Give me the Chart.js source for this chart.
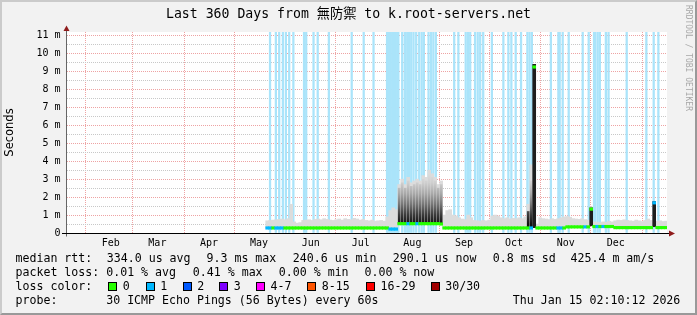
<!DOCTYPE html>
<html><head><meta charset="utf-8"><title>smokeping k.root-servers.net</title>
<script src="https://cdn.jsdelivr.net/npm/chart.js@4/dist/chart.umd.min.js"></script>
<style>
html,body{margin:0;padding:0;background:#f2f2f2;}
#wrap{position:relative;width:697px;height:315px;overflow:hidden;background:#f2f2f2;}
#c{position:absolute;left:0;top:0;}
#frame{position:absolute;left:0;top:0;width:697px;height:315px;box-sizing:border-box;border-style:solid;border-width:2px;border-color:#cbcbcb #999 #999 #cbcbcb;pointer-events:none;}
.tx{position:absolute;white-space:pre;font-family:"DejaVu Sans Mono",monospace;font-size:11.6px;line-height:14px;color:#000;}
#title{position:absolute;left:0;top:6.4px;width:697px;text-align:center;white-space:pre;font-family:"DejaVu Sans Mono","Noto Sans CJK TC",monospace;font-size:13.2px;line-height:16px;color:#000;}
#wm{position:absolute;left:684px;top:5px;writing-mode:vertical-rl;font-family:"DejaVu Sans Mono",monospace;font-size:8px;line-height:9px;color:#a8a8a8;white-space:pre;}
.box{position:absolute;width:9px;height:9px;box-sizing:border-box;border:1px solid #000;}
</style></head>
<body><div id="wrap">
<canvas id="c" width="697" height="315"></canvas>
<div id="title"></div>
<div id="wm"></div>
<div id="legend"></div>
<div id="frame"></div>
</div>
<script>
// ---------------- texts ----------------
const titleText = 'Last 360 Days from 無防禦 to k.root-servers.net';
const watermarkText = 'RRDTOOL / TOBI OETIKER';
const yAxisTitle = 'Seconds';
const rttLabel = 'median rtt:';
const rttStats = ['334.0 us avg','9.3 ms max','240.6 us min','290.1 us now','0.8 ms sd','425.4 m am/s'];
const lossLabel = 'packet loss:';
const lossStats = ['0.01 % avg','0.41 % max','0.00 % min','0.00 % now'];
const colorLabel = 'loss color:';
const lossClasses = ['0','1','2','3','4-7','8-15','16-29','30/30'];
const lossColors = ['#26ff00','#00b8ff','#0059ff','#7e00ff','#ff00ff','#ff5500','#ff0000','#a00000'];
const probeLabel = 'probe:';
const probeText = '30 ICMP Echo Pings (56 Bytes) every 60s';
const stampText = 'Thu Jan 15 02:10:12 2026';

// ---------------- axis ticks (days since 2025-01-20) ----------------
const monthNames     = ['Feb','Mar','Apr','May','Jun','Jul','Aug','Sep','Oct','Nov','Dec'];
const monthLabelDays = [27, 55, 86, 116, 147, 177, 208, 239, 269, 300, 330];
const monthStartDays = [12, 40, 71, 101, 132, 162, 193, 224, 254, 285, 315, 346];
const yMajorTicks = [0,1,2,3,4,5,6,7,8,9,10,11];
const yMinorTicks = [0.5,1.5,2.5,3.5,4.5,5.5,6.5,7.5,8.5,9.5,10.5];
const yTickLabels = ['0','1 m','2 m','3 m','4 m','5 m','6 m','7 m','8 m','9 m','10 m','11 m'];

// ---------------- series (ms), one sample per 1.8 days from day 120 ----------------
const sampleStartDay = 120.9;
const sampleStepDays = 1.8;
const medianMs = [
0.28,0.28,0.28,0.28,0.28,0.28,0.28,0.28,0.28,0.28,
0.28,0.28,0.28,0.28,0.28,0.28,0.28,0.28,0.28,0.28,
0.28,0.28,0.28,0.28,0.28,0.28,0.28,0.28,0.28,0.28,
0.28,0.28,0.28,0.28,0.28,0.28,0.28,0.28,0.28,0.28,
0.28,0.22,0.22,0.22,0.52,0.52,0.52,0.52,0.52,0.52,
0.52,0.52,0.52,0.52,0.52,0.52,0.52,0.52,0.50,0.28,
0.28,0.28,0.28,0.28,0.28,0.28,0.28,0.28,0.28,0.28,
0.28,0.28,0.28,0.28,0.28,0.28,0.28,0.28,0.28,0.28,
0.28,0.28,0.28,0.28,0.28,0.28,0.28,0.28,0.28,9.25,
0.28,0.28,0.28,0.28,0.28,0.28,0.28,0.28,0.28,0.28,
0.34,0.34,0.34,0.34,0.34,0.34,0.34,0.34,1.33,0.36,
0.36,0.36,0.36,0.36,0.36,0.36,0.30,0.30,0.30,0.30,
0.30,0.30,0.30,0.30,0.30,0.30,0.30,0.30,0.30,1.68,
0.30,0.30,0.30,0.30
];
const smokeMaxMs = [
0.68,0.70,0.72,0.74,0.76,0.78,0.74,0.80,1.60,0.62,
0.55,0.58,0.70,0.72,0.74,0.70,0.76,0.78,0.74,0.80,
0.76,0.72,0.70,0.74,0.78,0.72,0.80,0.76,0.74,0.82,
0.78,0.72,0.76,0.70,0.68,0.72,0.66,0.68,0.70,0.66,
0.90,1.25,1.40,1.30,2.70,3.00,2.70,3.10,2.80,2.90,
3.00,2.90,3.20,3.10,3.50,3.30,3.10,2.70,2.90,1.00,
1.25,1.30,1.00,0.95,0.85,0.78,0.75,1.00,0.85,0.70,
0.68,0.66,0.70,0.68,0.72,0.95,1.00,0.95,0.85,0.80,
0.85,0.78,0.82,0.80,0.85,0.80,0.90,1.60,3.80,9.30,
0.50,0.85,0.80,0.78,0.75,0.80,0.76,0.80,0.85,0.90,
0.92,0.88,0.80,0.78,0.76,0.80,0.75,0.72,1.45,0.62,
0.60,0.58,0.62,0.60,0.65,0.62,0.68,0.72,0.70,0.74,
0.70,0.68,0.66,0.72,0.68,0.64,0.70,0.78,0.70,1.75,
0.66,0.68,0.64,0.66
];
// dense (dark) smoke, by sample index
const denseIdx   = [44,45,46,47,48,49,50,51,52,53,54,55,56,57,58,87,88];
const denseTopMs = [2.5,2.8,2.5,2.9,2.6,2.7,2.8,2.7,3.0,2.9,3.3,3.1,2.9,2.5,2.7,1.2,2.9];
// solid dark spikes, by sample index
const spikeIdx    = [89, 108, 129];
const spikeLowMs  = [0.30, 0.40, 0.35];
const spikeHighMs = [9.40, 1.40, 1.75];
// samples whose median is drawn in loss colour "1"
const blueMedianIdx = [0,1,3,4,5,41,42,43,47,50,88,97,98,106,110,112,129];
// days with packet loss (loss bars)
const lossDays = [122.6,126.1,128.1,130.3,132.1,134.1,136.6,143.0,144.3,148.7,151.2,157.9,171.6,178.8,184.7,
192.8,193.9,194.9,195.9,196.9,197.9,198.9,199.6,201.9,203.5,204.9,205.9,207.3,208.7,210.3,212.1,213.6,214.9,
217.7,219.2,220.6,222.1,233.1,235.6,240.0,241.4,242.7,245.6,247.2,248.7,250.5,255.7,262.6,265.6,267.4,270.0,
273.2,277.0,278.3,279.7,291.1,295.6,296.4,298.2,301.8,310.2,313.8,317.0,317.8,319.2,320.5,324.1,325.7,336.6,
348.4,352.8,355.6];

// ---------------- HTML texts ----------------
document.getElementById('title').textContent = titleText;
document.getElementById('wm').textContent = watermarkText;
const legend = document.getElementById('legend');
function addText(t, x, top) {
  const d = document.createElement('div'); d.className = 'tx'; d.textContent = t;
  d.style.left = x + 'px'; d.style.top = top + 'px'; legend.appendChild(d);
}
const lineTop = [251.3, 265.3, 279.3, 293];
const rttX = [106.8, 206.5, 292.8, 392.8, 492.8, 570.5];
const lossX = [106.2, 192.8, 278.8, 364.5];
const boxX = [108, 145.7, 182.7, 219.3, 256, 307.3, 365.7, 431];
const classX = [122.8, 160.2, 197.2, 233.8, 270.5, 321.8, 380.5, 445.2];
addText(rttLabel, 15.5, lineTop[0]);
rttStats.forEach((s, i) => addText(s, rttX[i], lineTop[0]));
addText(lossLabel, 15.5, lineTop[1]);
lossStats.forEach((s, i) => addText(s, lossX[i], lineTop[1]));
addText(colorLabel, 15.5, lineTop[2]);
lossClasses.forEach((s, i) => {
  const b = document.createElement('div'); b.className = 'box';
  b.style.left = boxX[i] + 'px'; b.style.top = '282px'; b.style.background = lossColors[i];
  legend.appendChild(b);
  addText(s, classX[i], lineTop[2]);
});
addText(probeLabel, 15.5, lineTop[3]);
addText(probeText, 106.2, lineTop[3]);
addText(stampText, 512.8, lineTop[3]);

// ---------------- chart ----------------
const sampleX = medianMs.map((_, i) => sampleStartDay + i * sampleStepDays);
const medianHalf = 0.07;
const yMax = 11.2;
const majorGrid = '#eea3a3';
const minorGrid = '#c8c8c8';

function denseGradient(ctx) {
  const ch = ctx.chart;
  const ys = ch.scales.y;
  if (!ch.chartArea || !ys) return '#888';
  const g = ch.ctx.createLinearGradient(0, ys.getPixelForValue(0.5), 0, ys.getPixelForValue(3.5));
  g.addColorStop(0, '#111111');
  g.addColorStop(0.17, '#3a3a3a');
  g.addColorStop(0.37, '#777777');
  g.addColorStop(0.57, '#aaaaaa');
  g.addColorStop(0.77, '#cfcfcf');
  g.addColorStop(1, '#e2e2e2');
  return g;
}

const bgPlugin = {
  id: 'canvasBg',
  beforeDraw(ch) {
    const a = ch.chartArea, c = ch.ctx;
    c.save(); c.fillStyle = '#ffffff';
    c.fillRect(a.left, a.top, a.right - a.left, a.bottom - a.top);
    c.restore();
  }
};
const axesPlugin = {
  id: 'rrdAxes',
  afterDraw(ch) {
    const a = ch.chartArea, c = ch.ctx;
    c.save();
    c.lineWidth = 1;
    c.strokeStyle = '#666666';
    c.beginPath(); c.moveTo(a.left - 0.5, a.bottom + 3.5); c.lineTo(a.left - 0.5, a.top - 4); c.stroke();
    c.strokeStyle = '#000000';
    c.beginPath(); c.moveTo(a.left - 5, a.bottom + 0.5); c.lineTo(a.right + 3, a.bottom + 0.5); c.stroke();
    c.fillStyle = '#8f1c1c';
    c.beginPath(); c.moveTo(a.left - 0.5, a.top - 6.5); c.lineTo(a.left - 3.5, a.top - 1); c.lineTo(a.left + 2.5, a.top - 1); c.closePath(); c.fill();
    c.beginPath(); c.moveTo(a.right + 8, a.bottom + 0.5); c.lineTo(a.right + 2, a.bottom - 2.5); c.lineTo(a.right + 2, a.bottom + 3.5); c.closePath(); c.fill();
    c.restore();
  }
};

const common = { stack: 'all', borderWidth: 0, grouped: true };
new Chart(document.getElementById('c'), {
  type: 'bar',
  data: {
    datasets: [
      Object.assign({ label: 'median',
        data: medianMs.map((m, i) => ({ x: sampleX[i], y: [m - medianHalf, m + medianHalf] })),
        backgroundColor: medianMs.map((m, i) => blueMedianIdx.includes(i) ? lossColors[1] : lossColors[0]),
        barThickness: 3, order: 1 }, common),
      Object.assign({ label: 'spikes',
        data: spikeIdx.map((k, j) => ({ x: sampleX[k], y: [spikeLowMs[j], spikeHighMs[j]] })),
        backgroundColor: '#1e1e1e', barThickness: 3, order: 2 }, common),
      Object.assign({ label: 'dense smoke',
        data: denseIdx.map((k, j) => ({ x: sampleX[k], y: [medianMs[k], denseTopMs[j]] })),
        backgroundColor: denseGradient, barThickness: 2, order: 3 }, common),
      Object.assign({ label: 'smoke',
        data: smokeMaxMs.map((v, i) => ({ x: sampleX[i], y: [medianMs[i], v] })),
        backgroundColor: '#dcdcdc', barThickness: 3, order: 4 }, common),
      Object.assign({ label: 'loss',
        data: lossDays.map(d => ({ x: d, y: [0, yMax] })),
        backgroundColor: '#aae4fa', barThickness: 1.6, order: 5 }, common)
    ]
  },
  options: {
    responsive: false, animation: false, events: [],
    devicePixelRatio: 1,
    layout: { padding: { left: 0, right: 30, top: 32, bottom: 60 } },
    plugins: { legend: { display: false }, tooltip: { enabled: false }, title: { display: false } },
    scales: {
      x: {
        type: 'linear', min: 0.78, max: 360.78, offset: false, stacked: true,
        afterBuildTicks: s => { s.ticks = [...monthStartDays, ...monthLabelDays].sort((a, b) => a - b).map(v => ({ value: v })); },
        afterFit: s => { s.height = 22; },
        grid: { offset: false, drawTicks: false, lineWidth: 1,
          color: c => (c.tick && monthStartDays.includes(c.tick.value)) ? majorGrid : 'rgba(0,0,0,0)' },
        border: { display: false, dash: [1, 1] },
        ticks: { autoSkip: false, maxRotation: 0, minRotation: 0, padding: 4, color: '#000',
          font: { family: 'DejaVu Sans Mono', size: 10 },
          callback: v => { const k = monthLabelDays.indexOf(v); return k >= 0 ? monthNames[k] : ''; } }
      },
      y: {
        type: 'linear', min: 0, max: yMax, stacked: false,
        afterBuildTicks: s => { s.ticks = [...yMajorTicks, ...yMinorTicks].sort((a, b) => a - b).map(v => ({ value: v })); },
        afterFit: s => { s.width = 67; },
        grid: { drawTicks: false, lineWidth: 1,
          color: c => (c.tick && yMajorTicks.includes(c.tick.value)) ? majorGrid : minorGrid },
        border: { display: false, dash: [1, 1] },
        title: { display: true, text: yAxisTitle, color: '#000', padding: { top: 3, bottom: 0 },
          font: { family: 'DejaVu Sans', size: 11.5 } },
        ticks: { autoSkip: false, padding: 6.5, color: '#000',
          font: { family: 'DejaVu Sans Mono', size: 10 },
          callback: v => { const k = yMajorTicks.indexOf(v); return k >= 0 ? yTickLabels[k] : ''; } }
      }
    }
  },
  plugins: [bgPlugin, axesPlugin]
});
</script>
</body></html>
